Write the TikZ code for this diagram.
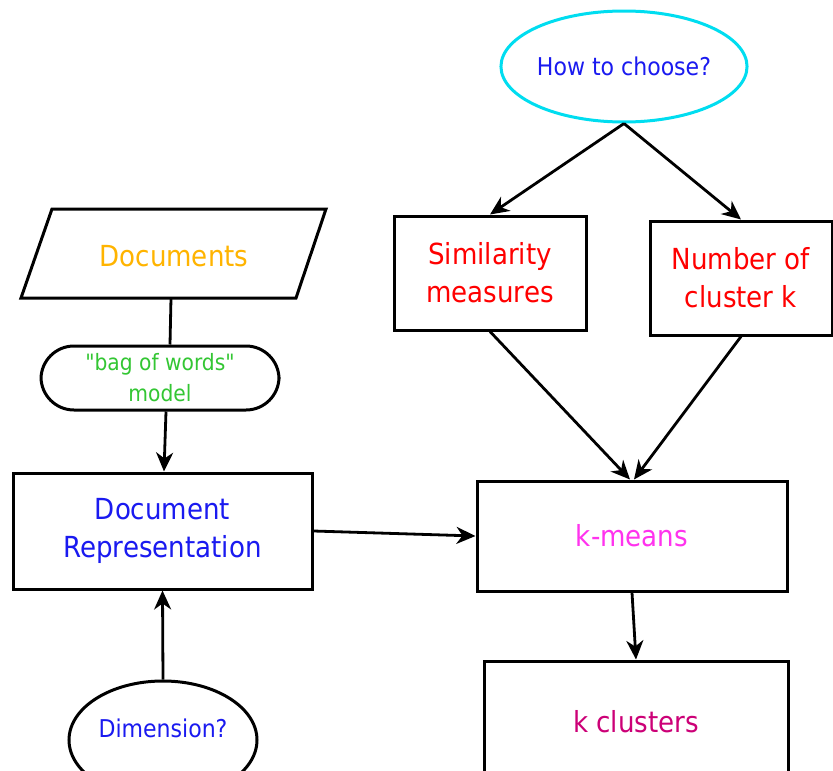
\documentclass[tikz,border=0pt]{standalone}
\usepackage{fontspec}
\setmainfont{DejaVu Sans Condensed}[Ligatures=TeXOff]
\usetikzlibrary{shapes.geometric,arrows.meta}
\definecolor{cOrange}{HTML}{FFB400}
\definecolor{cGreen}{HTML}{33C633}
\definecolor{cRed}{HTML}{FF0000}
\definecolor{cBlue}{HTML}{1A1AF0}
\definecolor{cMag}{HTML}{FF33EE}
\definecolor{cDeep}{HTML}{CC0077}
\definecolor{cCyan}{HTML}{00DDF0}
\tikzset{
  box/.style={draw=black, line width=3pt, fill=white, rectangle, inner sep=0pt, align=center},
  oval/.style={draw=black, line width=3pt, fill=white, ellipse, inner sep=0pt, align=center},
  conn/.style={draw=black, line width=2.8pt},
  arr/.style={conn, -{Stealth[length=19pt,width=17pt,inset=6pt]}},
  big/.style={font=\fontsize{29}{38}\selectfont},
  mid/.style={font=\fontsize{24.5}{30}\selectfont},
}
\begin{document}
\begin{tikzpicture}[x=1pt,y=-1pt]
\useasboundingbox (0,0) rectangle (833,771);
\clip (0,0) rectangle (833,771);
% Documents parallelogram
\draw[line width=3pt, fill=white] (52,209) -- (326,209) -- (296,298) -- (21,298) -- cycle;
\node[inner sep=0pt, minimum width=305pt, minimum height=89pt] (docs) at (171,253.5) {};
\node[big, text=cOrange] (docst) at (174,256) {Documents};
% bag of words
\node[box, rounded corners=33pt, minimum width=238pt, minimum height=64pt, text=cGreen, font=\fontsize{22.5}{31}\selectfont] (bag) at (160,378) {"bag of words"\\model};
% How to choose
\node[oval, draw=cCyan, minimum width=231pt, minimum height=111pt, text=cBlue, mid] (how) at (624,66.5) {How to choose?};
% Similarity
\node[box, minimum width=192pt, minimum height=114pt, text=cRed, big] (sim) at (490,273) {Similarity\\measures};
% Number of cluster k
\node[box, minimum width=182pt, minimum height=114pt, text=cRed, big] (num) at (741,278) {Number of\\cluster k};
% Document Representation
\node[box, minimum width=299pt, minimum height=116pt, text=cBlue, big] (rep) at (162.5,531) {Document\\Representation};
% k-means
\node[box, minimum width=310pt, minimum height=110pt, text=cMag, big] (km) at (632,536) {k-means};
% k clusters
\node[box, minimum width=304pt, minimum height=122pt, text=cDeep, big] (kc) at (636,722) {k clusters};
% Dimension?
\node[oval, minimum width=188pt, minimum height=118pt] (dim) at (163,740) {};
\node[text=cBlue, mid] (dimt) at (163,728) {Dimension?};
% connectors
\draw[arr] (how.south) -- (sim.north);
\draw[arr] (how.south) -- (num.north);
\draw[arr] (sim.south) -- ([xshift=-2pt]km.north);
\draw[arr] (num.south) -- ([xshift=2pt]km.north);
\draw[conn] (docs.south) -- ([xshift=10pt]bag.north);
\draw[arr] ([xshift=6pt]bag.south) -- ([xshift=1.5pt]rep.north);
\draw[arr] (rep.east) -- (km.west);
\draw[arr] (km.south) -- (kc.north);
\draw[arr] (dim.north) -- (rep.south);
\end{tikzpicture}
\end{document}
